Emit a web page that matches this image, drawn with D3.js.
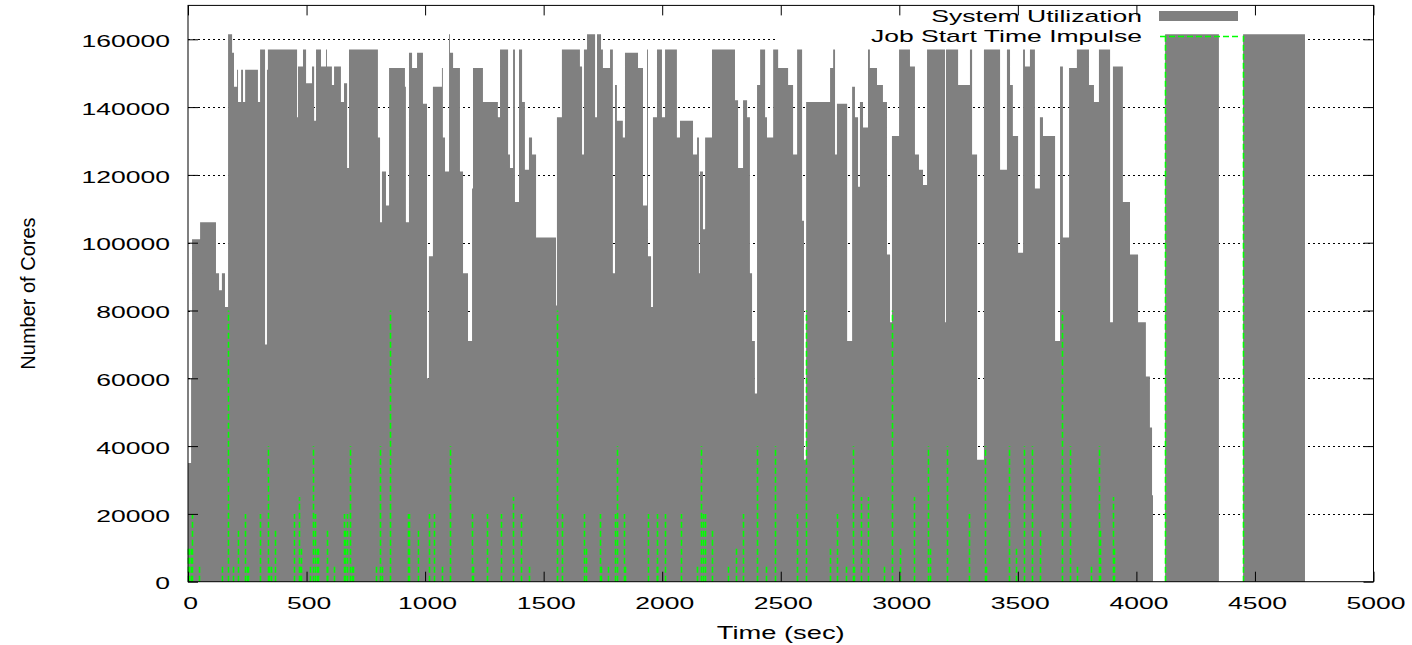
<!DOCTYPE html>
<meta charset="utf-8">
<style>
  body { margin: 0; background: #fff; }
  text { font-family: "Liberation Sans", Arial, sans-serif; }
</style>

<!-- Load d3.js -->
<script src="https://d3js.org/d3.v7.min.js"></script>

<div id="my_dataviz"></div>
<script>

// System utilization: step start time (sec) and cores busy from then on
var utilTime = [0, 13, 17, 51, 118, 131, 143, 156, 169, 186, 194, 207, 211, 224, 232, 241, 295, 304, 325, 333,
  337, 460, 464, 485, 498, 523, 532, 540, 561, 582, 586, 607, 616, 645, 658, 671, 679, 801, 810, 818,
  835, 848, 915, 919, 932, 945, 966, 991, 1008, 1016, 1033, 1071, 1075, 1084, 1101, 1105, 1118, 1147, 1160, 1181,
  1198, 1202, 1244, 1307, 1316, 1350, 1358, 1371, 1379, 1396, 1409, 1421, 1438, 1451, 1468, 1552, 1556, 1577, 1653, 1662,
  1670, 1683, 1717, 1725, 1742, 1750, 1780, 1792, 1801, 1809, 1834, 1843, 1898, 1919, 1936, 1940, 1953, 1961, 1978, 1999,
  2012, 2062, 2075, 2130, 2147, 2155, 2159, 2172, 2181, 2210, 2307, 2320, 2341, 2358, 2370, 2379, 2391, 2400, 2413, 2434,
  2442, 2468, 2489, 2531, 2552, 2569, 2590, 2598, 2607, 2708, 2721, 2729, 2737, 2780, 2801, 2813, 2826, 2834, 2847, 2868,
  2876, 2906, 2931, 2948, 2961, 2969, 2999, 3045, 3066, 3083, 3100, 3117, 3193, 3197, 3248, 3298, 3307, 3328, 3357, 3425,
  3454, 3467, 3479, 3501, 3522, 3530, 3551, 3572, 3593, 3606, 3657, 3678, 3690, 3716, 3749, 3800, 3821, 3842, 3889, 3901,
  3943, 3973, 4007, 4040, 4057, 4066, 4070, 4121, 4348, 4450, 4711];
var utilCores = [35000, 60000, 101000, 106000, 91000, 86000, 91000, 81000, 161500, 156000, 146000, 151000, 141500, 151000, 141500, 151000, 141500, 157000, 70000, 151000,
  157000, 137000, 152000, 157000, 147000, 152000, 136000, 157000, 152000, 157000, 152000, 146500, 152000, 141500, 147000, 122000, 157000, 131000, 106000, 121000,
  111000, 151500, 146000, 106000, 156000, 151500, 156000, 141000, 60000, 96000, 146000, 151500, 131000, 121000, 161500, 156000, 151500, 121000, 91000, 71000,
  116000, 151500, 141500, 137000, 157000, 126000, 122000, 157000, 112000, 157000, 141500, 121500, 131000, 126000, 101500, 81500, 137000, 157000, 152000, 126000,
  157000, 161500, 137000, 161500, 157000, 151500, 157000, 91000, 146500, 136000, 131000, 156000, 151500, 111000, 157000, 96000, 81000, 137000, 157000, 137000,
  157000, 131000, 136000, 126000, 131000, 91000, 121000, 104000, 131000, 157000, 142000, 122000, 142000, 137000, 91000, 71000, 55500, 146500, 157000, 137000,
  131000, 157000, 151500, 146500, 126000, 157000, 106500, 36000, 141500, 151500, 157000, 126000, 141000, 71000, 146000, 137000, 116500, 141500, 134000, 157000,
  151500, 146500, 141500, 96500, 76500, 131500, 157000, 152000, 126000, 121500, 117000, 157000, 76500, 157000, 146500, 157000, 126000, 36000, 157000, 121500,
  157000, 146500, 131500, 97000, 157000, 152000, 157000, 116000, 137000, 131500, 71000, 152000, 101500, 151500, 157000, 146500, 141500, 157000, 76500, 152000,
  112000, 96500, 76500, 60500, 45500, 25500, 0, 161500, 0, 161500, 0];

// Job start impulses: start time (sec) and cores requested
var jobTime = [2, 6, 11, 18, 48, 145, 169, 191, 210, 240, 248, 254, 305, 336, 342, 350, 366, 448, 467, 472,
  477, 515, 526, 536, 544, 550, 585, 588, 617, 659, 664, 669, 683, 692, 697, 792, 810, 817, 852, 929,
  932, 971, 1018, 1037, 1073, 1104, 1199, 1203, 1260, 1319, 1372, 1403, 1438, 1558, 1577, 1671, 1679, 1738, 1741, 1773,
  1801, 1808, 1840, 1843, 1941, 1977, 1979, 2013, 2079, 2145, 2162, 2173, 2181, 2211, 2276, 2311, 2342, 2401, 2438, 2474,
  2570, 2606, 2708, 2738, 2774, 2806, 2809, 2838, 2869, 2935, 2970, 3003, 3062, 3122, 3129, 3200, 3294, 3361, 3366, 3463,
  3492, 3527, 3558, 3595, 3685, 3720, 3751, 3808, 3842, 3846, 3901, 3905, 4121, 4450];
var jobCores = [10000, 10000, 10000, 20000, 5000, 5000, 80000, 5000, 15000, 20000, 5000, 5000, 20000, 40000, 5000, 5000, 15000, 20000, 25000, 5000,
  10000, 5000, 40000, 20000, 10000, 10000, 15000, 5000, 5000, 20000, 15000, 20000, 40000, 5000, 5000, 5000, 40000, 5000, 80000, 20000,
  20000, 15000, 20000, 20000, 5000, 40000, 20000, 5000, 20000, 20000, 25000, 20000, 5000, 80000, 20000, 20000, 10000, 20000, 5000, 5000,
  20000, 40000, 20000, 5000, 20000, 20000, 5000, 20000, 20000, 5000, 40000, 20000, 20000, 15000, 5000, 10000, 20000, 40000, 5000, 40000,
  20000, 80000, 10000, 20000, 5000, 40000, 5000, 25000, 25000, 5000, 80000, 10000, 25000, 40000, 10000, 40000, 20000, 40000, 5000, 40000,
  10000, 40000, 40000, 15000, 80000, 40000, 5000, 5000, 40000, 15000, 25000, 10000, 161500, 161500];

var xTicks = [0, 500, 1000, 1500, 2000, 2500, 3000, 3500, 4000, 4500, 5000];
var yTicks = [0, 20000, 40000, 60000, 80000, 100000, 120000, 140000, 160000];

var plotL = 188, plotR = 1373.5, plotT = 5.4, plotB = 581.7;
var stretch = 1.56;   // the labels in the original are drawn wide
var green = "#00ff00";

var svg = d3.select("#my_dataviz")
  .append("svg")
    .attr("width", 1412)
    .attr("height", 645)

var x = d3.scaleLinear().domain([0, 5000]).range([plotL, plotR]);
var y = d3.scaleLinear().domain([0, 170000]).range([plotB, plotT]);

// dotted horizontal grid, under everything
svg.append("g")
  .selectAll("line")
  .data(yTicks.filter(function(d) { return d > 0; }))
  .enter()
  .append("line")
    .attr("x1", plotL)
    .attr("x2", plotR)
    .attr("y1", function(d) { return Math.round(y(d)) + 0.5; })
    .attr("y2", function(d) { return Math.round(y(d)) + 0.5; })
    .attr("stroke", "#000")
    .attr("stroke-dasharray", "2,3")

// key area is blanked like gnuplot does
svg.append("rect")
  .attr("x", 777).attr("y", plotT + 1)
  .attr("width", 470).attr("height", 40)
  .attr("fill", "#fff")

// utilization as a filled step curve
var util = utilTime.map(function(t, i) { return {t: t, v: utilCores[i]}; });
svg.append("path")
  .datum(util)
  .attr("fill", "#808080")
  .attr("d", d3.area()
    .curve(d3.curveStepAfter)
    .x(function(d) { return x(d.t); })
    .y0(y(0))
    .y1(function(d) { return y(d.v); })
  )

// job start impulses
var jobs = jobTime.map(function(t, i) { return {t: t, v: jobCores[i]}; });
svg.append("g")
  .selectAll("line")
  .data(jobs)
  .enter()
  .append("line")
    .attr("x1", function(d) { return Math.round(x(d.t)) + 0.5; })
    .attr("x2", function(d) { return Math.round(x(d.t)) + 0.5; })
    .attr("y1", y(0))
    .attr("y2", function(d) { return y(d.v); })
    .attr("stroke", green)
    .attr("stroke-width", 1.6)
    .attr("stroke-dasharray", "6,3")

// axes with inward ticks
var fontSize = 17;
svg.append("g")
  .attr("transform", "translate(" + plotL + ",0)")
  .call(d3.axisLeft(y).tickValues(yTicks).tickSize(-10).tickSizeOuter(0).tickPadding(18).tickFormat(d3.format("d")))
  .call(function(g) { g.select(".domain").remove(); })
  .selectAll("text")
    .attr("x", null)
    .attr("dy", "0.42em")
    .attr("font-size", fontSize)
    .attr("font-family", "Liberation Sans, Arial, sans-serif")
    .attr("fill", "#000")
    .attr("transform", "translate(-18,0) scale(" + stretch + ",1)")

svg.append("g")
  .attr("transform", "translate(" + plotR + ",0)")
  .call(d3.axisRight(y).tickValues(yTicks).tickSize(-10).tickSizeOuter(0).tickFormat(""))
  .call(function(g) { g.select(".domain").remove(); })

svg.append("g")
  .attr("transform", "translate(0," + plotB + ")")
  .call(d3.axisBottom(x).tickValues(xTicks).tickSize(-10).tickSizeOuter(0).tickPadding(15).tickFormat(d3.format("d")))
  .call(function(g) { g.select(".domain").remove(); })
  .selectAll("text")
    .attr("font-size", fontSize)
    .attr("font-family", "Liberation Sans, Arial, sans-serif")
    .attr("fill", "#000")
    .attr("transform", "translate(2,0) scale(" + stretch + ",1)")

svg.append("g")
  .attr("transform", "translate(0," + plotT + ")")
  .call(d3.axisTop(x).tickValues(xTicks).tickSize(-10).tickSizeOuter(0).tickFormat(""))
  .call(function(g) { g.select(".domain").remove(); })

// plot border
svg.append("rect")
  .attr("x", plotL).attr("y", plotT)
  .attr("width", plotR - plotL).attr("height", plotB - plotT)
  .attr("fill", "none")
  .attr("stroke", "#000")

// axis titles
svg.append("text")
  .attr("transform", "translate(" + ((plotL + plotR) / 2) + ",639) scale(" + stretch + ",1)")
  .attr("text-anchor", "middle")
  .attr("font-size", 17.5)
  .text("Time (sec)")

svg.append("text")
  .attr("transform", "translate(35," + ((plotT + plotB) / 2) + ") rotate(-90)")
  .attr("text-anchor", "middle")
  .attr("font-size", 20)
  .text("Number of Cores")

// legend
var keyX = 1142;
svg.append("text")
  .attr("transform", "translate(" + keyX + ",21.5) scale(" + stretch + ",1)")
  .attr("text-anchor", "end")
  .attr("font-size", fontSize)
  .text("System Utilization")
svg.append("rect")
  .attr("x", 1159).attr("y", 11)
  .attr("width", 79).attr("height", 10)
  .attr("fill", "#808080")

svg.append("text")
  .attr("transform", "translate(" + keyX + ",41.5) scale(" + stretch + ",1)")
  .attr("text-anchor", "end")
  .attr("font-size", fontSize)
  .text("Job Start Time Impulse")
svg.append("line")
  .attr("x1", 1160).attr("x2", 1238)
  .attr("y1", 36.5).attr("y2", 36.5)
  .attr("stroke", green)
  .attr("stroke-width", 1.6)
  .attr("stroke-dasharray", "6,3")

</script>
